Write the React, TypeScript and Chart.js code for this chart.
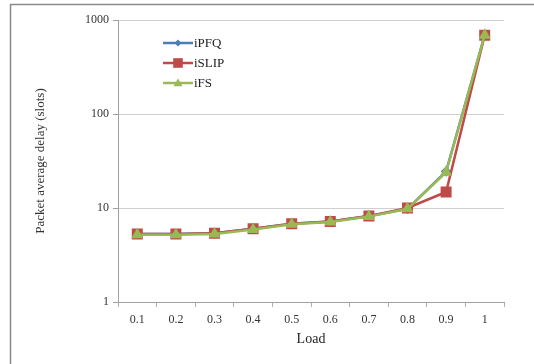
import React, { useEffect, useRef } from "react";
import { Chart, registerables } from "chart.js";

Chart.register(...registerables);

const loads = ["0.1", "0.2", "0.3", "0.4", "0.5", "0.6", "0.7", "0.8", "0.9", "1"];
const iPFQ = [5.3, 5.3, 5.4, 6.0, 6.8, 7.2, 8.2, 9.8, 24.5, 690];
const iSLIP = [5.3, 5.3, 5.4, 6.0, 6.8, 7.2, 8.2, 10.0, 14.8, 690];
const iFS = [5.2, 5.2, 5.3, 5.9, 6.7, 7.1, 8.1, 9.8, 24, 690];
const yTicks = [1, 10, 100, 1000];

const FONT = "'Liberation Serif', 'Times New Roman', serif";

const frame = {
  id: "frame",
  beforeDraw(chart: any) {
    const ctx = chart.ctx;
    ctx.save();
    ctx.fillStyle = "#ffffff";
    ctx.fillRect(0, 0, chart.width, chart.height);
    ctx.strokeStyle = "#8a8a8a";
    ctx.lineWidth = 1.5;
    ctx.beginPath();
    ctx.moveTo(10.5, chart.height);
    ctx.lineTo(10.5, 4.5);
    ctx.lineTo(chart.width, 4.5);
    ctx.stroke();
    ctx.restore();
  },
};

const innerLegend = {
  id: "innerLegend",
  afterDraw(chart: any) {
    const ctx = chart.ctx;
    const order = [0, 1, 2];
    ctx.save();
    order.forEach((i, k) => {
      const ds = chart.data.datasets[i];
      const y = 43 + k * 20;
      const x0 = 163;
      const x1 = 193;
      ctx.strokeStyle = ds.borderColor;
      ctx.lineWidth = 2.5;
      ctx.beginPath();
      ctx.moveTo(x0, y);
      ctx.lineTo(x1, y);
      ctx.stroke();
      ctx.fillStyle = ds.pointBackgroundColor;
      const cx = (x0 + x1) / 2;
      const r = ds.pointRadius;
      ctx.beginPath();
      if (ds.pointStyle === "rect") {
        ctx.rect(cx - r * 0.8, y - r * 0.8, r * 1.6, r * 1.6);
      } else if (ds.pointStyle === "rectRot") {
        ctx.moveTo(cx, y - r);
        ctx.lineTo(cx + r, y);
        ctx.lineTo(cx, y + r);
        ctx.lineTo(cx - r, y);
        ctx.closePath();
      } else {
        ctx.moveTo(cx, y - r);
        ctx.lineTo(cx + r, y + r * 0.7);
        ctx.lineTo(cx - r, y + r * 0.7);
        ctx.closePath();
      }
      ctx.fill();
      ctx.fillStyle = "#222";
      ctx.font = "13px " + FONT;
      ctx.textBaseline = "middle";
      ctx.textAlign = "left";
      ctx.fillText(ds.label, x1 + 1, y + 1);
    });
    ctx.restore();
  },
};

export default function App() {
  const ref = useRef<HTMLCanvasElement | null>(null);
  useEffect(() => {
    if (!ref.current) return;
    const chart = new Chart(ref.current, {
      type: "line",
      data: {
        labels: loads,
        datasets: [
          {
            label: "iPFQ",
            data: iPFQ,
            borderColor: "#4a7ebb",
            backgroundColor: "#4a7ebb",
            pointBackgroundColor: "#4a7ebb",
            pointBorderColor: "#4a7ebb",
            pointStyle: "rectRot",
            pointRadius: 3.5,
            borderWidth: 2.5,
            order: 2,
          },
          {
            label: "iSLIP",
            data: iSLIP,
            borderColor: "#be4b48",
            backgroundColor: "#be4b48",
            pointBackgroundColor: "#be4b48",
            pointBorderColor: "#be4b48",
            pointStyle: "rect",
            pointRadius: 6,
            borderWidth: 2.5,
            order: 1,
          },
          {
            label: "iFS",
            data: iFS,
            borderColor: "#98b954",
            backgroundColor: "#98b954",
            pointBackgroundColor: "#98b954",
            pointBorderColor: "#98b954",
            pointStyle: "triangle",
            pointRadius: 4.5,
            borderWidth: 2.5,
            order: 0,
          },
        ] as any,
      },
      options: {
        animation: false,
        responsive: false,
        maintainAspectRatio: false,
        layout: { padding: { left: 33, top: 20, right: 30, bottom: 16 } },
        plugins: { legend: { display: false }, tooltip: { enabled: false } },
        scales: {
          x: {
            offset: true,
            grid: {
              offset: true,
              drawOnChartArea: false,
              drawTicks: true,
              tickLength: 5,
              color: "#b0b0b0",
            },
            border: { color: "#a0a0a0", width: 1 },
            ticks: {
              color: "#333",
              font: { family: FONT, size: 12 },
              padding: 6,
              maxRotation: 0,
            },
            title: {
              display: true,
              text: "Load",
              color: "#222",
              font: { family: FONT, size: 14 },
              padding: { top: 4, bottom: 0 },
            },
            afterFit(scale: any) {
              scale.height = 46;
            },
          },
          y: {
            type: "logarithmic",
            min: 1,
            max: 1000,
            afterBuildTicks(scale: any) {
              scale.ticks = yTicks.map((v) => ({ value: v }));
            },
            grid: {
              color: "#d0d0d0",
              drawTicks: true,
              tickLength: 5,
              tickColor: "#a0a0a0",
            },
            border: { color: "#a0a0a0", width: 1 },
            ticks: {
              color: "#333",
              font: { family: FONT, size: 12 },
              padding: 4,
              callback: (v: any) => String(v),
            },
            title: {
              display: true,
              text: "Packet average delay (slots)",
              color: "#333",
              font: { family: FONT, size: 13 },
              padding: { top: 0, bottom: 0 },
            },
            afterFit(scale: any) {
              scale.width = 85;
            },
          },
        },
      },
      plugins: [frame, innerLegend],
    });
    return () => chart.destroy();
  }, []);
  return (
    <div style={{ position: "fixed", left: 0, top: 0, width: 534, height: 364 }}>
      <canvas ref={ref} width={534} height={364} style={{ width: 534, height: 364 }} />
    </div>
  );
}
